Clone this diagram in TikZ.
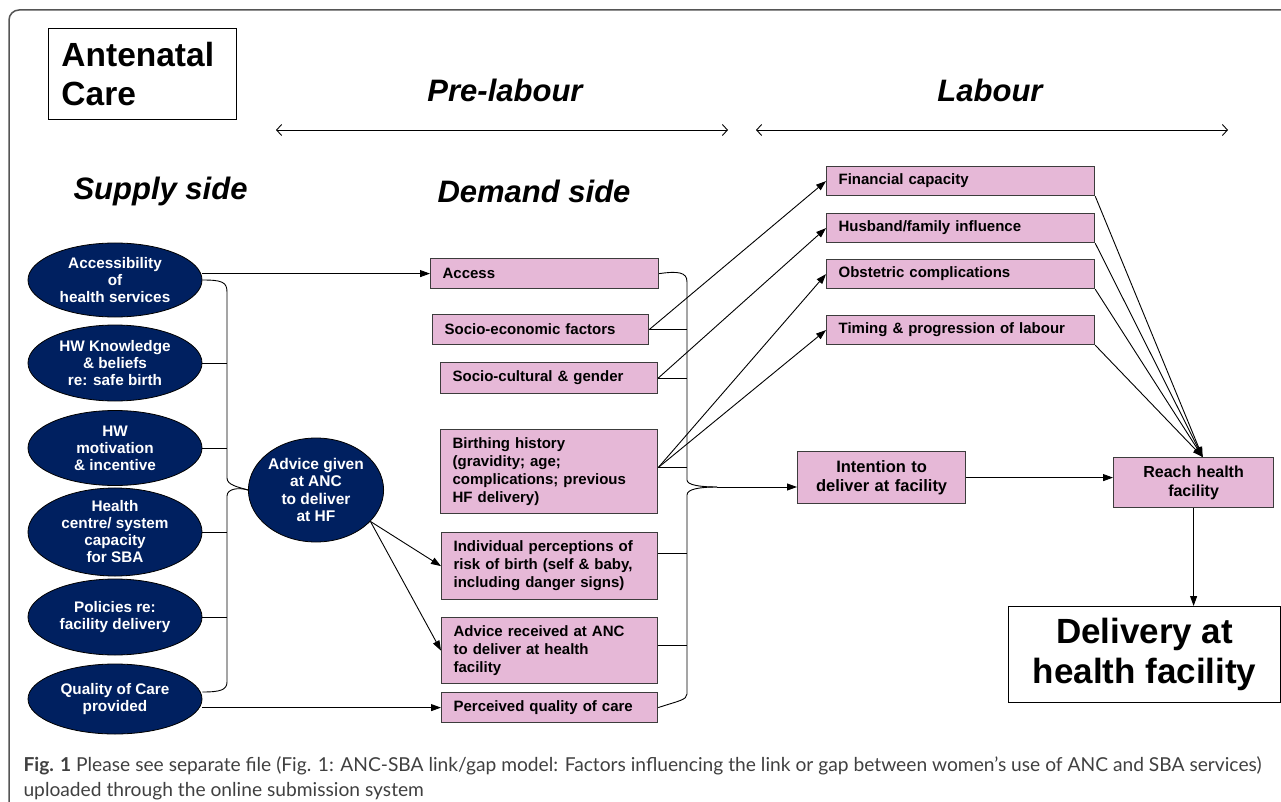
\documentclass[tikz,border=0pt]{standalone}
\usepackage{fontspec}
\setmainfont{Liberation Sans}
\newfontfamily\capfont{Lato}
\usepackage{xcolor}
\usetikzlibrary{shapes.geometric,arrows.meta,calc}

\definecolor{navy}{RGB}{0,32,96}
\definecolor{pinkbox}{RGB}{230,184,215}
\definecolor{boxline}{RGB}{60,60,60}
\definecolor{framegray}{RGB}{85,85,85}
\definecolor{captext}{RGB}{64,64,64}

\newcommand{\fsz}[2]{\fontsize{#1}{#2}\selectfont}

\tikzset{
  supply/.style={ellipse, draw=black, fill=navy, text=white, line width=0.8pt,
    minimum width=174pt, inner sep=0pt, align=center, font=\bfseries\fsz{15.3}{17}},
  factor/.style={rectangle, draw=boxline, fill=pinkbox, line width=1.2pt, anchor=north west,
    align=left, inner xsep=12pt, inner ysep=0pt, font=\bfseries\fsz{15}{18}},
  link/.style={line width=0.9pt},
  arr/.style={link, -{Triangle[length=10pt,width=7pt]}},
  span/.style={line width=0.9pt, {Straight Barb[length=5pt,width=11pt]}-{Straight Barb[length=5pt,width=11pt]}},
  heading/.style={font=\bfseries\itshape\fsz{31}{36}},
}

\begin{document}
\begin{tikzpicture}[x=1pt,y=-1pt]
    \useasboundingbox (0,0) rectangle (1281,802);
    \begin{scope}
        \clip (0,0) rectangle (1281,802);
        \draw[framegray, line width=1.5pt, rounded corners=10pt] (9,10) rectangle (1300,830); % Frame
    \end{scope}

    % Titles
    \node[draw, line width=0.9pt, anchor=north west, minimum width=188pt, minimum height=91pt,
          inner xsep=13pt, align=left, text width=162pt, font=\bfseries\fsz{33.5}{39}] (anc) at (48,28) {Antenatal\\Care};
    \node[heading] (pre) at (505,90) {Pre-labour};
    \node[heading] (lab) at (990,90) {Labour};
    \coordinate (preL) at (276,130);
    \coordinate (preR) at (728,130);
    \coordinate (labL) at (756,130);
    \coordinate (labR) at (1228,130);
    \draw[span] (preL) -- (preR);
    \draw[span] (labL) -- (labR);
    \node[heading, anchor=west] (supply) at (70,191) {Supply side};
    \node[heading, anchor=west] (demand) at (434,191) {Demand side};

    % Supply side
    \node[supply, minimum height=74pt] (e1) at (115,280) {Accessibility\\of\\health services};
    \node[supply, minimum height=76pt] (e2) at (115,363) {HW Knowledge\\\& beliefs\\re: safe birth};
    \node[supply, minimum height=75pt] (e3) at (115,448) {HW\\motivation\\\& incentive};
    \node[supply, minimum height=76pt] (e4) at (115,532) {Health\\centre/ system\\capacity\\for SBA};
    \node[supply, minimum height=76pt] (e5) at (115,617) {Policies re:\\facility delivery};
    \node[supply, minimum height=70pt] (e6) at (115,699) {Quality of Care\\provided};
    \node[supply, minimum width=129pt, minimum height=104pt, font=\bfseries\fsz{15.5}{17.5}] (adv) at (316,490) {Advice given\\at ANC\\to deliver\\at HF};

    % Demand side
    \node[factor, minimum width=228pt, minimum height=30pt, text width=204pt] (acc) at (430,258) {Access};
    \node[factor, minimum width=216pt, minimum height=30pt, text width=192pt] (soceco) at (432,314) {Socio-economic factors};
    \node[factor, minimum width=217pt, minimum height=31pt, text width=193pt] (soccult) at (440,362) {Socio-cultural \& gender};
    \node[factor, minimum width=217pt, minimum height=84pt, text width=193pt] (birth) at (440,429) {Birthing history\\(gravidity; age;\\complications; previous\\HF delivery)};
    \node[factor, minimum width=216pt, minimum height=67pt, text width=192pt] (indiv) at (441,532) {Individual perceptions of\\risk of birth (self \& baby,\\including danger signs)};
    \node[factor, minimum width=216pt, minimum height=66pt, text width=192pt] (advrec) at (441,617) {Advice received at ANC\\to deliver at health\\facility};
    \node[factor, minimum width=216pt, minimum height=30pt, text width=192pt] (perc) at (441,692) {Perceived quality of care};

    % Labour
    \node[factor, minimum width=268pt, minimum height=29pt, text width=244pt] (fin) at (826,166) {Financial capacity};
    \node[factor, minimum width=268pt, minimum height=29pt, text width=244pt] (husb) at (826,213) {Husband/family influence};
    \node[factor, minimum width=268pt, minimum height=29pt, text width=244pt] (obst) at (826,259) {Obstetric complications};
    \node[factor, minimum width=268pt, minimum height=29pt, text width=244pt] (timing) at (826,315) {Timing \& progression of labour};
    \node[factor, minimum width=168pt, minimum height=52pt, text width=144pt, align=center, font=\bfseries\fsz{16.5}{19}] (intent) at (797,451) {Intention to\\deliver at facility};
    \node[factor, minimum width=160pt, minimum height=50pt, text width=136pt, align=center, font=\bfseries\fsz{16}{19}] (reach) at (1113,457) {Reach health\\facility};
    \node[draw, line width=1.2pt, anchor=north west, minimum width=272pt, minimum height=96pt, align=center,
          font=\bfseries\fsz{35}{40}] (deliv) at (1008,606) {Delivery at\\health facility};

    % Brackets
    \coordinate (lbar) at (227,0);
    \coordinate (rbar) at (687,0);
    \coordinate (rtip) at (717,487);
    \draw[link] (e1.east) .. controls (222,280) and (227,282) .. (227,292) -- (227,478)
        .. controls (227,485) and (238,487) .. (adv.west);
    \draw[link] (adv.west) .. controls (238,487) and (227,489) .. (227,496) -- (227,682)
        .. controls (227,690) and (220,692) .. ([yshift=7pt]e6.east);
    \foreach \e in {e2,e3,e4,e5} \draw[link] (\e.east) -- (\e.east -| lbar);
    \draw[link] (acc.east) .. controls (678,271) and (687,272) .. (687,282) -- (687,480)
        .. controls (687,485) and (700,487) .. (rtip);
    \draw[link] (rtip) .. controls (700,487) and (687,489) .. (687,495) -- (687,694)
        .. controls (687,700) and (678,701) .. (perc.east);
    \foreach \b/\s in {soceco/0,soccult/0,birth/4,indiv/13,advrec/5}
        \draw[link] ([yshift=\s pt]\b.east) -- ([yshift=\s pt]\b.east -| rbar);

    % Arrows
    \draw[arr] (acc.west -| e1.east) -- (acc.west);
    \draw[arr] (perc.west -| e6.east) -- (perc.west);
    \draw[arr] (adv.-30) -- (indiv.west);
    \draw[arr] (adv.-30) -- (advrec.west);
    \draw[arr] (soceco.east) -- (fin.west);
    \draw[arr] (soccult.east) -- (husb.west);
    \draw[arr] ([yshift=4pt]birth.east) -- (obst.west);
    \draw[arr] ([yshift=4pt]birth.east) -- (timing.west);
    \draw[arr] (rtip) -- (rtip -| intent.west);
    \draw[arr] (intent.east) -- (intent.east -| reach.west);
    \foreach \r in {fin,husb,obst,timing} \draw[arr] (\r.south east) -- ([xshift=9pt]reach.north);
    \draw[arr] (reach.south) -- (reach.south |- deliv.north);

    % Caption
    \node[anchor=north west, align=left, text=captext, font=\capfont\fsz{19.2}{25}] (cap) at (20,753)
        {\textbf{Fig. 1} Please see separate file (Fig. 1: ANC-SBA link/gap model: Factors influencing the link or gap between women’s use of ANC and SBA services)\\uploaded through the online submission system};
\end{tikzpicture}
\end{document}
